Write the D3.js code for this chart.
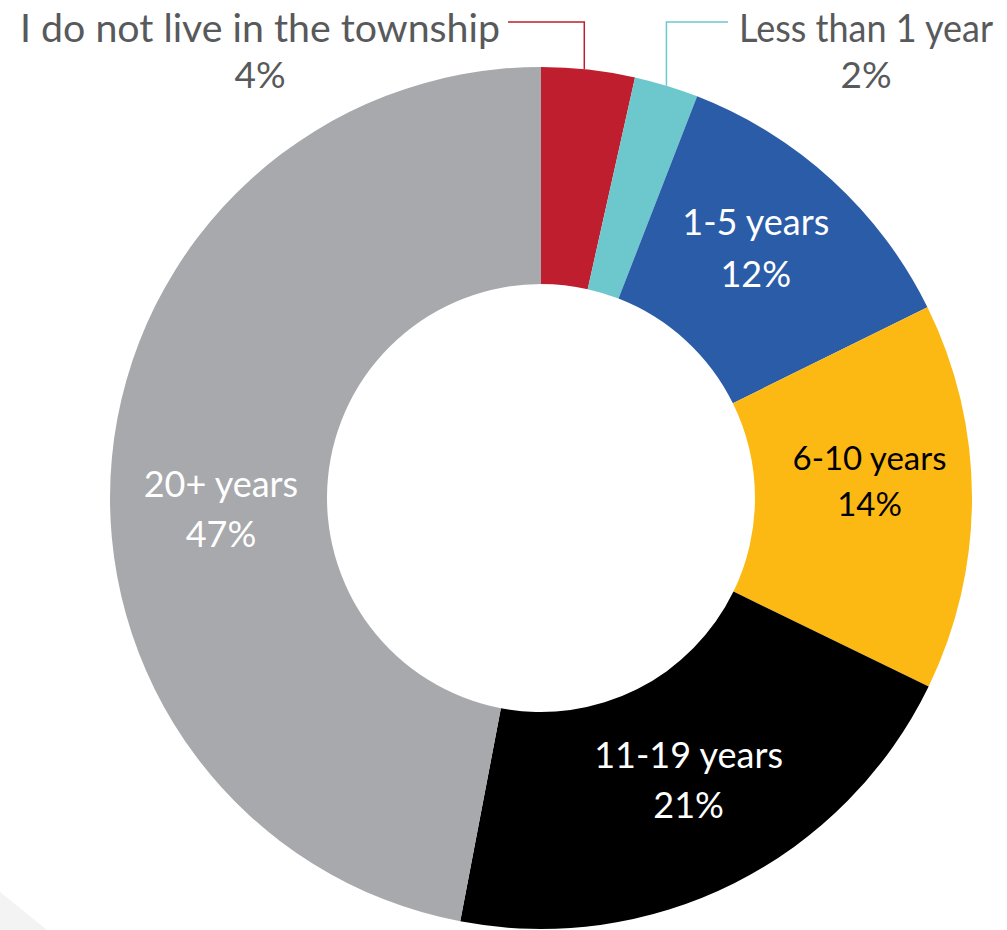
<!DOCTYPE html>
<html>
<head>
<meta charset="utf-8">
<script src="https://cdn.jsdelivr.net/npm/d3@7"></script>
<style>
  body { margin: 0; background: #fff; }
  svg { display: block; font-family: Lato, "Open Sans", sans-serif; }
</style>
</head>
<body>
<script>
(function(){

    // chart data
    var categories = ["I do not live in the township", "Less than 1 year", "1-5 years", "6-10 years", "11-19 years", "20+ years"];
    var values = [3.5, 2.4, 11.8, 14.5, 20.8, 47.0];
    var pctLabels = ["4%", "2%", "12%", "14%", "21%", "47%"];
    var colors = ["#be1e2d", "#6dc8cd", "#2b5ca8", "#fdb913", "#000000", "#a7a9ac"];
    var textColors = ["#58595b", "#58595b", "#ffffff", "#000000", "#ffffff", "#ffffff"];

    var width = 1007,
        height = 930,
        cx = 541,
        cy = 498,
        outerR = 431,
        innerR = 214;

    var svg = d3.select("body")
        .append("svg")
        .attr("width", width)
        .attr("height", height);

    // faint background stripe in the lower left corner
    svg.append("path")
        .attr("d", "M0,892L47,930L0,930Z")
        .style("fill", "#f3f3f3");

    var data = categories.map(function(c, i){
        return { name: c, value: values[i], pct: pctLabels[i], color: colors[i], text: textColors[i] };
    });

    var pie = d3.pie()
        .sort(null)
        .value(function(d){ return d.value; });

    var arc = d3.arc()
        .innerRadius(innerR)
        .outerRadius(outerR);

    var g = svg.append("g")
        .attr("transform", "translate(" + cx + "," + cy + ")");

    var arcs = pie(data);

    g.selectAll(".slice")
        .data(arcs)
        .enter()
        .append("path")
        .attr("class", "slice")
        .attr("d", arc)
        .style("fill", function(d){ return d.data.color; });

    // labels inside the ring (nudged off the centroid like the original)
    var inner = arcs.slice(2);
    var sizes = [36, 33, 36, 36];
    var gaps = [52, 46, 50, 50];
    var nudges = [[-3, 0], [6, -2], [3, 7], [1, 54]];

    inner.forEach(function(d, i){
        var c = arc.centroid(d);
        var x = c[0] + nudges[i][0],
            y = c[1] + nudges[i][1] - 25;
        var t = g.append("text")
            .attr("text-anchor", "middle")
            .style("fill", d.data.text)
            .style("font-size", sizes[i] + "px");
        t.append("tspan")
            .attr("x", x)
            .attr("y", y)
            .text(d.data.name);
        t.append("tspan")
            .attr("x", x)
            .attr("y", y + gaps[i])
            .text(d.data.pct);
    });

    // outside labels with leader lines for the two small slices
    var lineY = 22 - cy;
    var outside = [
        { d: arcs[0], lx: 260, lineEnd: 508 - cx, w: 480 },
        { d: arcs[1], lx: 866, lineEnd: 728 - cx, w: 254 }
    ];

    outside.forEach(function(o, i){
        var a = (o.d.startAngle + o.d.endAngle) / 2;
        var x = Math.sin(a) * outerR - (i === 0 ? 4 : 0);
        var yArc = -Math.sqrt(outerR * outerR - x * x);
        g.append("path")
            .attr("d", "M" + x + "," + yArc + "V" + lineY + "H" + o.lineEnd)
            .style("fill", "none")
            .style("stroke", o.d.data.color)
            .style("stroke-width", 1.5);

        g.append("text")
            .attr("text-anchor", "middle")
            .attr("x", o.lx - cx)
            .attr("y", 42 - cy)
            .attr("textLength", o.w)
            .attr("lengthAdjust", "spacingAndGlyphs")
            .style("fill", o.d.data.text)
            .style("font-size", "38px")
            .text(o.d.data.name);
        g.append("text")
            .attr("text-anchor", "middle")
            .attr("x", o.lx - cx)
            .attr("y", 88 - cy)
            .style("fill", o.d.data.text)
            .style("font-size", "37px")
            .text(o.d.data.pct);
    });

})();
</script>
</body>
</html>
